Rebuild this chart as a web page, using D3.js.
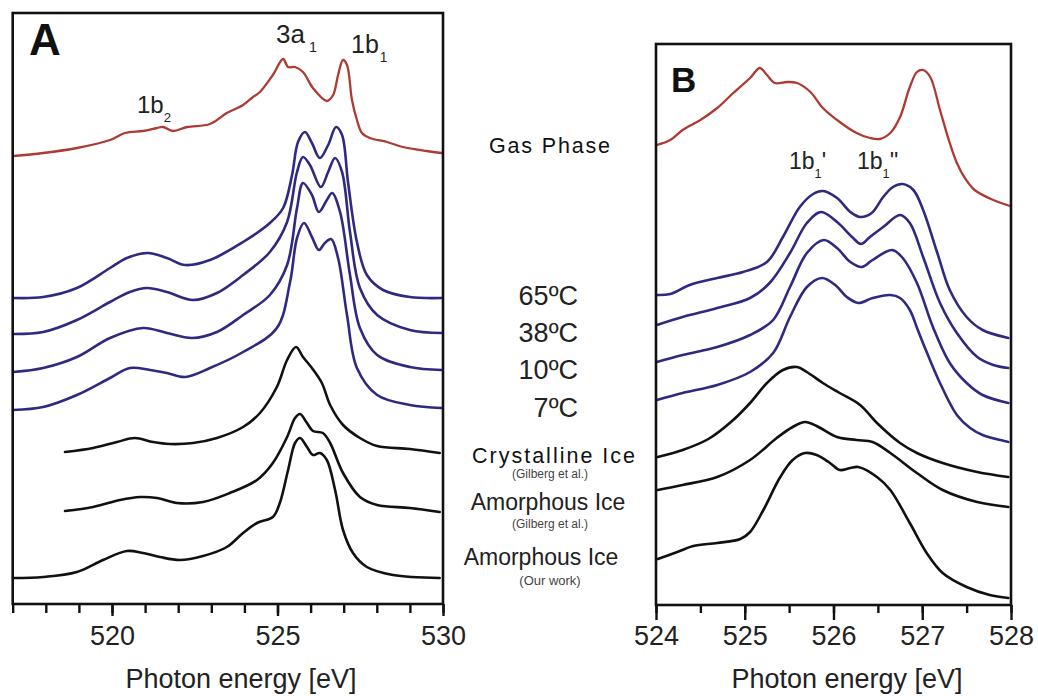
<!DOCTYPE html>
<html>
<head>
<meta charset="utf-8">
<script src="https://cdn.jsdelivr.net/npm/d3@7"></script>
<style>
  html, body { margin: 0; padding: 0; background: #fff; }
  svg { display: block; }
  text { font-family: "Liberation Sans", Arial, sans-serif; }
</style>
</head>
<body>
<svg id="chart" width="1038" height="696"></svg>
<script>
// ---------------- DATA (photon energy in eV, intensity in arbitrary units, offset-stacked) ----------------
// Panel A
const gasA_E = [517.01,517.92,518.94,519.94,520.39,520.94,521.36,521.54,521.84,522.27,522.96,523.47,523.96,524.26,524.47,524.86,525.17,525.32,525.53,525.77,526.07,526.49,526.68,526.83,526.98,527.10,527.25,527.40,527.55,527.79,528.31,528.79,529.51,529.96];
const gasA_I = [44.8,45.1,45.6,46.4,47.1,47.3,47.6,47.7,47.3,47.7,48.0,49.1,49.9,50.7,51.2,52.9,54.5,53.7,53.7,53.2,51.6,50.3,50.9,52.9,54.4,53.9,50.4,48.4,47.1,46.6,46.2,45.7,45.3,45.1];

const t65A_E = [517.01,517.92,518.94,519.94,520.45,521.09,521.66,522.21,522.96,523.96,524.77,525.17,525.44,525.62,525.83,526.04,526.28,526.53,526.77,526.95,527.13,527.40,527.70,528.19,529.00,529.96];
const t65A_I = [30.6,30.7,31.6,33.6,34.6,35.1,34.6,33.9,34.4,36.2,38.1,39.6,42.9,46.2,47.2,46.1,44.6,45.9,47.7,46.9,42.2,36.2,32.9,31.4,30.7,30.6];

const t38A_E = [517.01,517.92,518.94,519.94,520.54,521.06,521.66,522.45,523.17,523.96,524.77,525.29,525.59,525.77,525.98,526.31,526.53,526.74,526.95,527.19,527.49,528.01,529.00,529.96];
const t38A_I = [27.0,27.2,28.4,30.2,31.2,31.6,31.2,30.4,31.1,32.9,35.2,38.2,43.2,44.7,43.9,41.7,43.2,44.6,43.2,37.2,31.6,28.9,27.4,27.1];

const t10A_E = [517.01,517.92,518.94,519.94,520.94,521.66,522.42,523.17,523.96,524.77,525.29,525.59,525.77,526.04,526.25,526.49,526.65,526.89,527.19,527.49,528.01,529.00,529.96];
const t10A_I = [23.2,23.6,24.7,26.6,27.6,27.1,26.6,27.2,28.9,30.9,33.9,39.6,42.1,40.9,39.2,40.4,41.1,39.2,32.9,27.6,24.9,23.7,23.4];

const t7A_E = [517.01,517.92,518.94,519.94,520.54,521.15,521.66,522.21,522.96,523.96,524.98,525.38,525.59,525.80,526.04,526.25,526.43,526.62,526.83,527.10,527.40,528.01,529.00,529.96];
const t7A_I = [19.4,19.7,20.9,22.6,23.6,23.4,23.1,22.7,23.6,25.2,27.6,32.2,36.6,38.1,36.7,35.4,36.1,36.5,34.6,28.9,23.6,20.9,19.9,19.6];

const crystA_E = [518.58,519.43,520.15,520.69,521.24,521.75,522.45,523.17,523.96,524.47,524.98,525.29,525.56,525.77,526.04,526.34,526.59,526.98,527.49,528.01,529.00,529.90];
const crystA_I = [15.2,15.6,16.2,16.6,16.2,16.0,16.1,16.6,17.7,19.1,21.7,24.4,25.7,24.7,23.6,22.1,19.9,17.9,16.6,15.8,15.5,15.1];

const amorGA_E = [518.58,519.43,520.24,520.85,521.36,521.96,522.75,523.56,524.38,524.86,525.29,525.53,525.68,525.89,526.07,526.37,526.59,526.98,527.49,528.01,529.00,529.90];
const amorGA_I = [9.3,9.7,10.4,10.7,10.6,10.1,10.2,11.1,12.4,14.1,16.7,18.6,19.0,18.1,17.3,17.1,16.1,13.1,10.7,9.9,9.6,9.2];

const amorOA_E = [517.01,517.92,518.94,519.73,520.45,520.94,521.45,522.05,522.75,523.47,523.96,524.38,524.86,525.07,525.32,525.53,525.68,525.89,526.07,526.28,526.49,526.74,526.98,527.28,527.70,528.49,529.90];
const amorOA_I = [2.6,2.7,3.2,4.4,5.3,5.1,4.7,4.4,4.8,5.7,7.1,8.1,8.7,10.1,13.4,16.1,16.6,15.7,14.9,15.1,14.4,11.4,7.4,5.1,3.7,2.9,2.6];

// Panel B
const gasB_E = [524.01,524.16,524.30,524.50,524.69,524.87,525.06,525.17,525.25,525.34,525.48,525.59,525.74,525.88,526.07,526.26,526.41,526.52,526.64,526.75,526.86,526.94,527.01,527.09,527.20,527.31,527.39,527.48,527.59,527.80,527.99];
const gasB_I = [46.0,46.5,47.5,48.5,49.7,51.2,52.7,53.7,53.0,52.2,52.3,52.2,51.3,49.7,48.3,47.2,46.7,46.6,47.2,48.8,51.8,53.3,53.5,52.8,49.5,46.2,44.2,42.7,41.5,40.5,39.9];

const t65B_E = [524.01,524.16,524.38,524.69,524.98,525.25,525.43,525.62,525.77,525.88,526.04,526.19,526.30,526.43,526.56,526.67,526.78,526.90,527.01,527.17,527.31,527.50,527.68,527.97];
const t65B_I = [31.0,31.1,32.0,32.7,33.3,34.3,36.8,39.8,41.1,41.4,40.7,39.3,38.8,39.2,40.8,41.8,42.1,41.5,39.5,35.2,31.5,28.8,27.5,26.7];

const t38B_E = [524.01,524.30,524.69,525.06,525.28,525.51,525.70,525.86,526.04,526.21,526.31,526.41,526.56,526.75,526.86,527.01,527.20,527.39,527.62,527.80,527.97];
const t38B_I = [28.0,28.8,29.7,30.7,32.2,35.2,38.2,39.3,38.3,36.8,36.1,36.8,37.8,39.0,38.2,34.8,30.2,27.2,24.8,24.0,23.7];

const t10B_E = [524.01,524.30,524.69,525.06,525.32,525.51,525.70,525.89,526.04,526.19,526.32,526.44,526.66,526.78,526.94,527.12,527.31,527.50,527.68,527.97];
const t10B_I = [24.3,25.0,25.8,27.0,28.5,31.8,35.2,36.5,35.7,34.3,33.8,34.5,35.5,34.7,32.2,27.8,24.2,22.2,21.0,20.2];

const t7B_E = [524.01,524.30,524.69,525.06,525.32,525.51,525.70,525.87,526.02,526.15,526.28,526.44,526.64,526.75,526.86,526.95,527.05,527.20,527.39,527.54,527.68,527.97];
const t7B_I = [20.5,21.2,22.0,23.3,25.2,28.8,31.8,32.7,32.0,30.8,30.2,30.7,31.0,30.7,29.5,27.5,25.3,22.2,19.0,17.7,17.0,16.3];

const crystB_E = [524.02,524.30,524.59,524.87,525.06,525.25,525.43,525.59,525.70,525.88,526.07,526.30,526.49,526.75,526.94,527.23,527.62,527.97];
const crystB_I = [14.8,15.5,16.6,18.5,20.2,22.2,23.5,23.8,23.3,22.2,21.2,20.0,18.2,16.2,15.2,14.2,13.3,12.8];

const amorGB_E = [524.02,524.30,524.69,525.06,525.36,525.54,525.68,525.81,526.04,526.26,526.44,526.64,526.94,527.23,527.62,527.97];
const amorGB_I = [11.5,12.0,12.8,14.5,16.7,17.8,18.3,17.9,16.8,16.5,16.3,15.2,13.2,11.5,10.3,9.8];

const amorOB_E = [524.02,524.24,524.42,524.69,524.95,525.06,525.21,525.40,525.54,525.68,525.81,525.96,526.07,526.19,526.28,526.49,526.64,526.86,527.05,527.23,527.50,527.76,527.97];
const amorOB_I = [4.6,5.3,5.9,6.2,6.6,7.3,9.5,12.8,14.5,15.2,15.0,14.2,13.5,13.7,13.8,12.8,11.5,8.2,5.2,3.2,1.8,1.0,0.7];

// Axis ticks
const ticksA_major = [520, 525, 530];
const ticksA_minor = [517,518,519,520,521,522,523,524,525,526,527,528,529,530];
const ticksB_major = [524, 525, 526, 527, 528];
const ticksB_minor = [524,524.5,525,525.5,526,526.5,527,527.5,528];

// Sample labels
const tempLabels = ["65ºC", "38ºC", "10ºC", "7ºC"];

// ---------------- DRAWING ----------------
const svg = d3.select("#chart");
const RED = "#ad3b33", BLUE = "#2f2a80", BLACK = "#111111";

function zip(E, I) { return E.map((e, i) => [e, I[i]]); }

function panel(cfg) {
  const g = svg.append("g");
  const x = d3.scaleLinear().domain(cfg.xDomain).range([cfg.left, cfg.right]);
  const y = d3.scaleLinear().domain([0, cfg.yMax]).range([cfg.bottom, cfg.top]);
  const line = d3.line().x(d => x(d[0])).y(d => y(d[1])).curve(d3.curveCatmullRom.alpha(0.5));

  cfg.series.forEach(s => {
    g.append("path")
      .attr("d", line(zip(s.E, s.I)))
      .attr("fill", "none")
      .attr("stroke", s.color)
      .attr("stroke-width", s.width)
      .attr("stroke-linejoin", "round")
      .attr("stroke-linecap", "round");
  });

  // frame
  g.append("rect")
    .attr("x", cfg.left).attr("y", cfg.top)
    .attr("width", cfg.right - cfg.left).attr("height", cfg.bottom - cfg.top)
    .attr("fill", "none").attr("stroke", BLACK).attr("stroke-width", 2.6);

  // minor ticks
  const minor = g.append("g").attr("transform", `translate(0,${cfg.bottom})`)
    .call(d3.axisBottom(x).tickValues(cfg.minor).tickSize(cfg.minorLen).tickFormat(""));
  minor.select(".domain").remove();
  minor.selectAll("line").attr("stroke", BLACK).attr("stroke-width", 2.4);

  // major ticks
  const major = g.append("g").attr("transform", `translate(0,${cfg.bottom})`)
    .call(d3.axisBottom(x).tickValues(cfg.major).tickSize(cfg.majorLen).tickPadding(10).tickFormat(d3.format("d")));
  major.select(".domain").remove();
  major.selectAll("line").attr("stroke", BLACK).attr("stroke-width", 2.4);
  major.selectAll("text")
    .attr("font-family", "'Liberation Sans', Arial, sans-serif")
    .attr("font-size", 27).attr("fill", "#222")
    .attr("y", null).attr("dy", null)
    .attr("transform", `translate(0,${645 - cfg.bottom})`);

  g.append("text")
    .attr("x", cfg.titleX).attr("y", 688)
    .attr("text-anchor", "middle")
    .attr("font-size", 27).attr("fill", "#222")
    .text("Photon energy [eV]");

  g.append("text")
    .attr("x", cfg.letterX).attr("y", cfg.letterY)
    .attr("font-size", cfg.letterSize).attr("font-weight", "bold").attr("fill", "#111")
    .text(cfg.letter);

  return { g, x, y };
}

const A = panel({
  xDomain: [517, 530], left: 12.7, right: 443, top: 13, bottom: 604, yMax: 59.1,
  major: ticksA_major, minor: ticksA_minor, majorLen: 12, minorLen: 9,
  titleX: 241, letter: "A", letterX: 29, letterY: 55, letterSize: 44,
  series: [
    { E: gasA_E, I: gasA_I, color: RED, width: 2.3 },
    { E: t65A_E, I: t65A_I, color: BLUE, width: 2.6 },
    { E: t38A_E, I: t38A_I, color: BLUE, width: 2.6 },
    { E: t10A_E, I: t10A_I, color: BLUE, width: 2.6 },
    { E: t7A_E, I: t7A_I, color: BLUE, width: 2.6 },
    { E: crystA_E, I: crystA_I, color: BLACK, width: 2.6 },
    { E: amorGA_E, I: amorGA_I, color: BLACK, width: 2.6 },
    { E: amorOA_E, I: amorOA_I, color: BLACK, width: 2.6 }
  ]
});

const B = panel({
  xDomain: [524, 528], left: 656, right: 1011, top: 44, bottom: 605, yMax: 56.1,
  major: ticksB_major, minor: ticksB_minor, majorLen: 15, minorLen: 8,
  titleX: 847, letter: "B", letterX: 671, letterY: 92, letterSize: 35,
  series: [
    { E: gasB_E, I: gasB_I, color: RED, width: 2.3 },
    { E: t65B_E, I: t65B_I, color: BLUE, width: 2.6 },
    { E: t38B_E, I: t38B_I, color: BLUE, width: 2.6 },
    { E: t10B_E, I: t10B_I, color: BLUE, width: 2.6 },
    { E: t7B_E, I: t7B_I, color: BLUE, width: 2.6 },
    { E: crystB_E, I: crystB_I, color: BLACK, width: 2.6 },
    { E: amorGB_E, I: amorGB_I, color: BLACK, width: 2.6 },
    { E: amorOB_E, I: amorOB_I, color: BLACK, width: 2.6 }
  ]
});

// Peak annotations (text with subscripts)
function annot(x, y, main, sub, suffix, size) {
  const t = svg.append("text").attr("x", x).attr("y", y)
    .attr("font-size", size).attr("fill", "#222");
  t.append("tspan").text(main);
  t.append("tspan").attr("font-size", size * 0.55).attr("dy", 9).attr("dx", sub.gap || 0).text(sub.text);
  if (suffix) t.append("tspan").attr("dy", -9).attr("font-size", size).text(suffix);
}
annot(276, 43, "3a", { text: "1", gap: 4 }, null, 26);
annot(351, 53, "1b", { text: "1", gap: 1 }, null, 25);
annot(137, 113, "1b", { text: "2", gap: 0 }, null, 24);
annot(789, 169, "1b", { text: "1", gap: 0 }, "'", 23);
annot(857, 169, "1b", { text: "1", gap: 0 }, "''", 23);

// Middle sample labels
const mid = svg.append("g");
mid.append("text").attr("x", 489).attr("y", 153)
  .attr("font-family", "'DejaVu Sans', sans-serif").attr("font-size", 21.5)
  .attr("textLength", 121).attr("lengthAdjust", "spacing")
  .attr("fill", "#111").text("Gas Phase");

const tempY = [305, 342, 379, 417];
tempLabels.forEach((t, i) => {
  mid.append("text").attr("x", 578).attr("y", tempY[i])
    .attr("text-anchor", "end").attr("font-size", 27).attr("fill", "#222").text(t);
});

mid.append("text").attr("x", 472).attr("y", 463)
  .attr("font-family", "'DejaVu Sans', sans-serif").attr("font-size", 21.5)
  .attr("textLength", 163).attr("lengthAdjust", "spacing")
  .attr("fill", "#111").text("Crystalline Ice");
mid.append("text").attr("x", 550).attr("y", 478).attr("text-anchor", "middle")
  .attr("font-size", 12).attr("fill", "#444").text("(Gilberg et al.)");
mid.append("text").attr("x", 548).attr("y", 510).attr("text-anchor", "middle")
  .attr("font-size", 23).attr("fill", "#222").text("Amorphous Ice");
mid.append("text").attr("x", 550).attr("y", 528).attr("text-anchor", "middle")
  .attr("font-size", 12).attr("fill", "#444").text("(Gilberg et al.)");
mid.append("text").attr("x", 541).attr("y", 565).attr("text-anchor", "middle")
  .attr("font-size", 23).attr("fill", "#222").text("Amorphous Ice");
mid.append("text").attr("x", 550).attr("y", 585).attr("text-anchor", "middle")
  .attr("font-size", 13).attr("fill", "#444").text("(Our work)");
</script>
</body>
</html>
